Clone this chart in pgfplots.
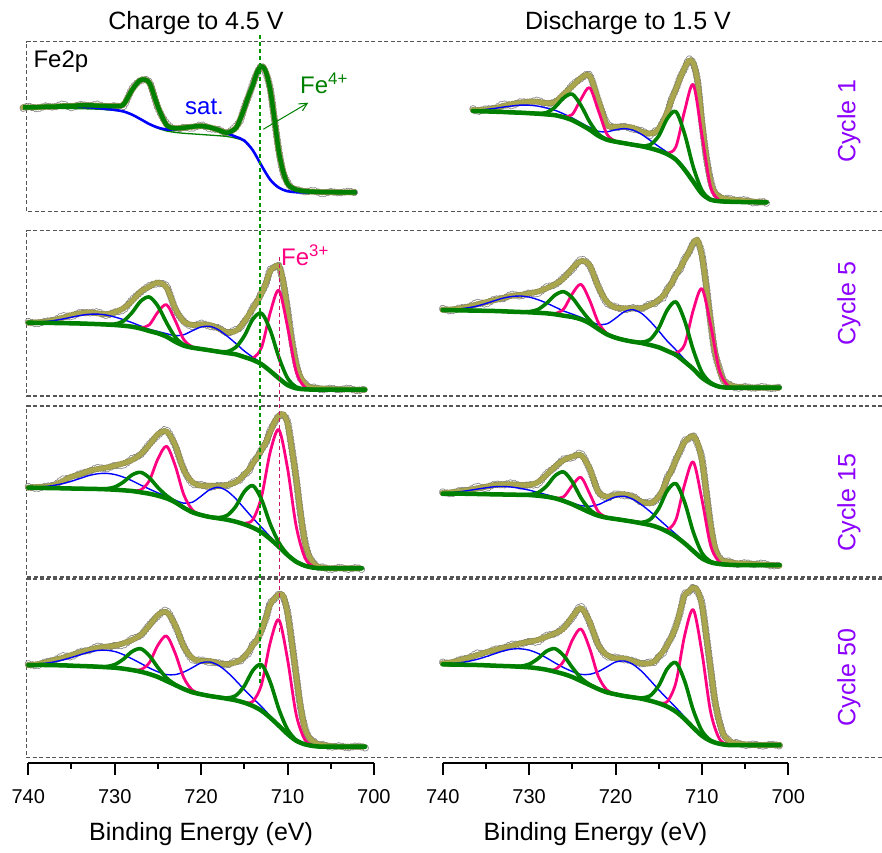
\documentclass[border=0pt]{standalone}
\usepackage{fontspec}
\setmainfont{Liberation Sans}
\usepackage{pgfplots}
\usepackage{pgfplotstable}
\pgfplotsset{compat=1.18}
\usetikzlibrary{arrows.meta}

\definecolor{fgreen}{RGB}{0,128,0}
\definecolor{fpink}{RGB}{255,0,128}
\definecolor{fblue}{RGB}{0,0,255}
\definecolor{olivefill}{RGB}{170,166,78}
\definecolor{oliveedge}{RGB}{138,134,80}
\definecolor{rawgray}{RGB}{128,128,128}
\definecolor{fviolet}{RGB}{140,0,255}
\definecolor{fcrimson}{RGB}{205,20,100}
\definecolor{fdash}{RGB}{85,85,85}
\definecolor{gdash}{RGB}{0,150,0}

% ---------- Charge to 4.5 V, cycle 1 ----------
\pgfplotstableread{
E bg blue
740.6 103.5 103.9
740 103.5 104.0
739 103.5 104.3
738 103.5 104.7
737 103.5 105.1
736 103.3 105.2
735 103.2 105.2
734 103.0 104.9
733 102.8 104.4
732 102.5 103.7
731 102.0 102.8
730 101.3 101.8
729 100.0 100.3
728 97.0 97.1
727 92.5 92.5
726 87.5 87.7
725 83.5 84.1
724 80.7 82.2
723 79.3 82.5
722 78.4 83.7
721 77.8 85.0
720 77.2 85.2
719 76.6 83.8
718 76.0 81.3
717 75.2 78.4
716 73.5 75.0
715 70.5 71.1
714 61.0 61.2
713 46.0 46.0
712 32.0 32.0
711 24.0 24.0
710 20.5 20.5
709 19.5 19.5
708 19.3 19.3
707 19.2 19.2
706 19.2 19.2
705 19.2 19.2
704 19.2 19.2
703 19.2 19.2
702 19.2 19.2
}\LAc
\pgfplotstableread{
E env dat
740.6 104.4 103.4
740 104.4 105.6
739 104.4 102.9
738 105.0 105.6
737 105.0 104.6
736 105.7 107.7
735 105.7 103.9
734 106.4 107.3
733 106.4 105.7
732 106.0 107.5
731 105.7 104.6
730 105.7 106.0
729 107.0 105.0
728 121.7 123.1
727 131.7 131.1
726 129.0 130.0
725 105.0 103.7
724 86.7 88.5
723 83.4 82.5
722 84.0 84.4
721 85.0 83.4
720 85.7 86.9
719 84.4 82.9
718 81.7 82.3
717 79.0 78.6
716 83.4 85.4
715.5 92.0 90.2
715 103.4 104.3
714.5 116.0 115.3
714 127.0 128.5
713.5 140.0 138.9
713 145.5 145.8
712.5 140.0 138.0
712 122.0 123.4
711.5 92.0 91.4
711 60.0 61.0
710.5 40.0 38.7
710 28.0 29.8
709.5 24.0 23.1
709 22.0 22.4
708 20.5 19.9
707 20.0 21.2
706 19.6 18.1
705 19.5 20.1
704 19.4 18.8
703 19.4 20.4
702 19.4 18.7
}\LAe

% ---------- Discharge to 1.5 V, cycle 1 ----------
\pgfplotstableread{
E bg blue grn pnk
736.5 100.7 101.5 100.7 100.7
736 100.5 101.6 100.5 100.5
735 100.3 102.3 100.3 100.3
734 100.0 103.3 100.0 100.0
733 99.7 104.6 99.7 99.7
732 99.3 105.7 99.3 99.3
731 99.0 106.6 99.0 99.0
730 98.5 106.5 98.5 98.5
729 98.0 105.6 98.2 98.0
728 97.3 103.7 99.1 97.3
727 96.5 101.4 104.5 96.5
726 94.5 97.8 113.8 95.0
725 91.5 93.7 117.5 97.2
724 87.0 88.8 106.3 112.5
723 82.0 84.3 90.0 124.0
722 76.0 80.4 77.8 101.5
721 72.0 79.9 72.2 77.7
720 70.0 81.9 70.0 70.5
719 68.5 83.1 68.5 68.5
718 67.0 81.6 67.0 67.0
717 65.5 77.4 65.9 65.5
716 63.5 71.4 66.9 63.5
715 61.0 65.2 75.7 61.0
714 57.5 59.3 93.2 58.6
713 52.0 52.7 100.0 65.1
712 42.0 42.2 77.7 100.9
711 30.0 30.0 44.7 127.0
710 18.0 18.0 21.4 76.9
709 12.0 12.0 12.4 25.1
708 10.5 10.5 10.5 11.6
707 10.0 10.0 10.0 10.0
706 9.8 9.8 9.8 9.8
705 9.6 9.6 9.6 9.6
704 9.5 9.5 9.5 9.5
703 9.4 9.4 9.4 9.4
702.5 9.4 9.4 9.4 9.4
}\RAc
\pgfplotstableread{
E env dat
736.5 101.7 102.9
736 101.6 100.1
735 102.3 102.9
734 103.4 103.0
733 105.7 107.7
732 107.7 105.9
731 109.0 109.9
730 110.0 109.3
729 110.0 111.5
728 108.5 107.4
727 109.5 109.8
726 117.6 115.6
725 125.4 126.8
724 133.6 133.0
723 136.0 137.0
722 112.0 110.7
721 87.0 88.8
720 85.0 84.1
719 85.0 85.4
718 84.0 82.4
717 80.0 81.2
716 78.0 76.5
715.5 79.0 80.6
715 83.0 81.9
714.5 90.0 90.3
714 100.0 98.0
713.5 112.0 113.4
713 123.0 122.4
712.5 134.0 135.0
712 144.0 142.7
711.5 151.0 152.8
711 149.0 148.1
710.5 130.0 130.4
710 90.0 88.4
709.5 55.0 55.0
709 30.0 31.8
708.5 19.0 18.1
708 15.0 15.4
707.5 13.4 12.0
707 12.5 13.7
706 11.7 11.1
705 11.0 12.0
704 10.0 8.7
703 9.4 10.2
702.5 9.4 8.3
}\RAe

% ---------- Charge to 4.5 V, cycle 5 ----------
\pgfplotstableread{
E bg blue grn pnk
740 73.3 73.6 73.3 73.3
739 73.2 73.9 73.2 73.2
738 73.1 74.5 73.1 73.1
737 73.0 75.5 73.0 73.0
736 72.9 77.0 72.9 72.9
735 72.7 78.8 72.7 72.7
734 72.5 80.5 72.5 72.5
733 72.2 81.7 72.2 72.2
732 71.9 81.9 71.9 71.9
731 71.5 81.0 71.6 71.5
730 71.0 79.0 72.0 71.0
729 70.3 76.4 74.9 70.3
728 69.3 73.4 83.3 69.3
727 67.5 70.0 94.7 68.3
726 65.0 66.7 99.0 71.1
725 62.7 64.5 89.9 83.9
724 59.3 62.3 73.3 91.3
723 54.3 60.3 58.9 75.5
722 50.3 61.3 51.3 56.4
721 48.3 65.3 48.4 49.1
720 47.0 69.0 47.0 47.0
719 45.7 69.7 45.7 45.7
718 44.3 66.3 44.5 44.3
717 43.0 60.0 44.4 43.0
716 41.7 52.7 48.6 41.7
715 39.0 45.0 60.0 39.2
714 36.0 38.7 76.9 38.1
713 31.7 32.8 82.7 48.6
712 25.0 25.3 65.9 83.3
711 17.7 17.7 38.7 105.7
710 11.0 11.0 17.9 69.3
709 7.7 7.7 9.1 24.6
708 6.7 6.7 6.9 8.8
707 6.4 6.4 6.4 6.6
706 6.3 6.3 6.3 6.3
705 6.3 6.3 6.3 6.3
704 6.3 6.3 6.3 6.3
703 6.3 6.3 6.3 6.3
702 6.3 6.3 6.3 6.3
701 6.3 6.3 6.3 6.3
}\LBc
\pgfplotstableread{
E env dat
740 73.3 74.5
739 73.7 72.2
738 74.3 74.9
737 76.0 75.6
736 78.3 80.3
735 81.0 79.2
734 82.7 83.6
733 83.7 83.0
732 82.7 84.2
731 81.7 80.6
730 83.7 84.0
729 87.7 85.7
728 95.0 96.4
727 104.3 103.7
726 109.3 110.3
725 113.5 112.2
724 108.5 110.3
723 87.7 86.8
722 74.3 74.7
721 71.0 69.4
720 71.7 72.9
719 71.0 69.5
718 67.7 68.3
717 63.7 63.0
716 65.0 66.5
715.5 69.0 67.9
715 74.3 74.6
714.5 81.0 79.0
714 87.7 89.1
713.5 95.0 94.4
713 102.7 103.7
712.5 113.0 111.7
712 125.0 126.8
711.5 129.0 128.1
711 130.0 130.4
710.5 115.0 113.4
710 85.0 87.0
709.5 55.0 55.9
709 32.0 32.4
708.5 19.0 17.4
708 12.0 13.2
707.5 9.0 8.4
707 8.0 9.0
706 7.5 6.2
705 7.0 7.8
704 6.7 6.1
703 6.7 7.9
702 6.3 5.4
701 6.3 7.0
}\LBe

% ---------- Discharge to 1.5 V, cycle 5 ----------
\pgfplotstableread{
E bg blue grn pnk
740 86.0 86.3 86.0 86.0
739 85.8 86.5 85.8 85.8
738 85.7 87.2 85.7 85.7
737 85.5 88.3 85.5 85.5
736 85.3 90.0 85.3 85.3
735 85.2 92.5 85.2 85.2
734 85.0 95.3 85.0 85.0
733 84.7 97.9 84.7 84.7
732 84.3 99.5 84.3 84.3
731 84.0 100.0 84.1 84.0
730 83.7 98.9 84.4 83.7
729 83.2 96.4 86.4 83.2
728 82.7 93.0 92.6 82.7
727 81.7 89.0 100.9 82.5
726 80.3 85.0 104.3 87.0
725 79.0 81.9 98.2 102.2
724 76.7 78.6 86.6 111.7
723 72.7 74.8 75.9 95.9
722 67.0 71.6 67.7 73.7
721 61.7 72.1 61.8 62.5
720 58.3 77.7 58.3 58.3
719 56.0 84.2 56.0 56.0
718 54.3 86.3 54.4 54.3
717 53.0 82.7 53.9 53.0
716 51.0 74.8 56.4 51.0
715 48.7 65.1 67.8 48.7
714 45.0 54.8 86.1 45.2
713 41.0 46.0 94.0 43.1
712 34.3 36.5 75.4 51.4
711 27.0 27.9 46.1 85.9
710 18.3 18.6 23.7 107.3
709 12.7 12.7 13.6 71.6
708 9.3 9.3 9.4 26.4
707 8.3 8.3 8.3 10.4
706 8.3 8.3 8.3 8.5
705 8.3 8.3 8.3 8.3
704 8.3 8.3 8.3 8.3
703 8.3 8.3 8.3 8.3
702 8.3 8.3 8.3 8.3
701 8.3 8.3 8.3 8.3
}\RBc
\pgfplotstableread{
E env dat
740 86.3 87.5
739 86.5 85.0
738 87.7 88.3
737 89.3 88.9
736 91.7 93.7
735 93.7 91.9
734 96.0 96.9
733 98.0 97.3
732 100.3 101.8
731 101.0 99.9
730 102.7 103.0
729 104.3 102.3
728 107.7 109.1
727 111.7 111.1
726 117.7 118.7
725 127.7 126.4
724 135.0 136.8
723 131.0 130.1
722 109.3 109.7
721 94.3 92.7
720 88.3 89.5
719 87.7 86.2
718 87.7 88.3
717 87.7 87.0
716 91.0 92.5
715.5 93.0 91.9
715 96.0 96.3
714.5 100.0 98.0
714 106.0 107.4
713.5 113.0 112.4
713 121.0 122.0
712.5 128.0 126.7
712 136.0 137.8
711.5 144.0 143.1
711 152.7 153.1
710.5 156.0 154.4
710 140.0 142.0
709.5 110.0 110.9
709 74.3 74.7
708.5 45.0 43.4
708 27.0 28.2
707.5 16.0 15.4
707 11.7 12.7
706 9.3 7.8
705 8.7 9.5
704 8.3 7.7
703 8.3 9.5
702 8.3 7.4
701 8.3 9.0
}\RBe

% ---------- Charge to 4.5 V, cycle 15 ----------
\pgfplotstableread{
E bg blue grn pnk
740 89.3 89.6 89.3 89.3
739 89.2 89.9 89.2 89.2
738 89.0 90.5 89.0 89.0
737 88.9 91.7 88.9 88.9
736 88.7 93.4 88.7 88.7
735 88.5 95.8 88.5 88.5
734 88.3 98.6 88.3 88.3
733 88.2 101.4 88.2 88.2
732 88.0 103.2 88.1 88.0
731 87.7 103.7 88.3 87.7
730 87.3 102.5 90.0 87.3
729 86.7 99.9 94.9 86.7
728 86.0 96.3 102.0 86.2
727 84.7 92.0 104.7 87.0
726 83.3 88.0 99.3 96.2
725 81.3 84.1 89.5 118.1
724 78.7 80.5 81.4 130.7
723 74.7 76.8 75.3 111.5
722 69.3 73.8 69.4 82.2
721 64.7 74.8 64.7 67.0
720 62.0 80.8 62.0 62.2
719 60.0 87.3 60.1 60.0
718 58.7 89.7 59.4 58.7
717 57.3 86.1 61.5 57.3
716 55.3 78.4 70.4 55.3
715 52.7 68.6 85.3 53.7
714 49.3 58.8 91.3 57.5
713 44.7 49.6 77.3 80.5
712 38.0 40.2 53.1 125.0
711 30.3 31.1 34.5 147.3
710 22.0 22.3 22.7 109.0
709 15.3 15.3 15.4 51.1
708 11.3 11.3 11.3 19.5
707 9.3 9.3 9.3 10.3
706 8.7 8.7 8.7 8.8
705 8.7 8.7 8.7 8.7
704 8.7 8.7 8.7 8.7
703 8.7 8.7 8.7 8.7
702 8.7 8.7 8.7 8.7
701.4 8.7 8.7 8.7 8.7
}\LCc
\pgfplotstableread{
E env dat
740 89.3 90.5
739 90.0 88.5
738 90.3 90.9
737 92.0 91.6
736 96.0 98.0
735 100.3 98.5
734 102.7 103.6
733 106.0 105.3
732 108.0 109.5
731 109.3 108.2
730 111.3 111.6
729 113.7 111.7
728 117.0 118.4
727 122.7 122.1
726 132.0 133.0
725 142.7 141.4
724 145.5 147.3
723 132.0 131.1
722 107.0 107.4
721 94.7 93.1
720 91.3 92.5
719 91.3 89.8
718 91.0 91.6
717 92.0 91.3
716 94.7 96.2
715.5 98.0 96.9
715 102.5 102.8
714.5 107.0 105.0
714 113.7 115.1
713.5 120.0 119.4
713 127.0 128.0
712.5 135.0 133.7
712 145.0 146.8
711.5 155.0 154.1
711 161.0 161.4
710.5 163.0 161.4
710 153.7 155.7
709.5 128.0 128.9
709 98.7 99.1
708.5 65.0 63.4
708 35.3 36.5
707.5 21.0 20.4
707 13.7 14.7
706.5 10.5 9.2
706 9.3 10.1
705 8.7 7.5
704 8.7 9.7
703 8.7 7.6
702 8.7 9.5
701.4 8.7 7.5
}\LCe

% ---------- Discharge to 1.5 V, cycle 15 ----------
\pgfplotstableread{
E bg blue grn pnk
740 83.3 83.8 83.3 83.3
739 83.3 84.4 83.3 83.3
738 83.3 85.3 83.3 83.3
737 83.2 86.5 83.2 83.2
736 83.0 87.9 83.0 83.0
735 82.8 89.2 82.8 82.8
734 82.7 90.3 82.7 82.7
733 82.5 90.5 82.5 82.5
732 82.3 89.9 82.3 82.3
731 82.2 88.6 82.3 82.2
730 82.0 86.9 82.5 82.0
729 81.3 84.6 84.2 81.3
728 80.3 82.3 90.7 80.3
727 78.7 79.8 101.2 79.0
726 76.0 76.8 105.0 80.2
725 72.7 74.0 95.2 91.5
724 68.7 71.4 79.1 99.7
723 64.7 70.7 67.6 83.5
722 61.3 72.3 61.8 65.5
721 59.3 76.3 59.4 59.6
720 58.0 80.0 58.0 58.0
719 56.7 80.7 56.7 56.7
718 55.3 77.8 55.4 55.3
717 53.7 72.3 54.6 53.7
716 52.0 65.5 57.4 52.0
715 49.3 57.9 68.4 49.5
714 45.3 50.2 86.4 47.4
713 40.3 42.7 93.3 57.4
712 33.7 34.8 74.8 92.6
711 26.0 26.4 45.1 115.0
710 18.7 18.7 24.1 77.6
709 14.7 14.7 15.6 31.8
708 13.0 13.0 13.1 15.1
707 12.3 12.3 12.3 12.5
706 12.0 12.0 12.0 12.0
705 12.0 12.0 12.0 12.0
704 12.0 12.0 12.0 12.0
703 12.0 12.0 12.0 12.0
702 12.0 12.0 12.0 12.0
701 12.0 12.0 12.0 12.0
}\RCc
\pgfplotstableread{
E env dat
740 83.8 85.0
739 84.7 83.2
738 86.0 86.6
737 87.0 86.6
736 88.7 90.7
735 90.3 88.5
734 92.0 92.9
733 92.7 92.0
732 92.7 94.2
731 92.0 90.9
730 92.0 92.3
729 94.7 92.7
728 102.0 103.4
727 110.3 109.7
726 117.0 118.0
725 120.3 119.0
724 122.0 123.8
723 108.7 107.8
722 85.3 85.7
721 80.3 78.7
720 82.0 83.2
719 82.7 81.2
718 80.3 80.9
717 75.3 74.6
716 73.7 75.2
715.5 76.0 74.9
715 80.3 80.6
714.5 88.0 86.0
714 98.7 100.1
713.5 107.0 106.4
713 117.0 118.0
712.5 127.0 125.7
712 135.0 136.8
711.5 139.0 138.1
711 141.0 141.4
710.5 134.0 132.4
710 117.0 119.0
709.5 85.0 85.9
709 52.0 52.4
708.5 30.0 28.4
708 18.7 19.9
707.5 16.0 15.4
707 15.3 16.3
706 13.7 12.4
705 13.5 14.3
704 13.0 12.4
703 12.5 13.9
702 12.0 11.1
701 11.3 12.0
}\RCe

% ---------- Charge to 4.5 V, cycle 50 ----------
\pgfplotstableread{
E bg blue grn pnk
740 92.5 92.9 92.5 92.5
739 92.5 93.4 92.5 92.5
738 92.5 94.3 92.5 92.5
737 92.3 95.6 92.3 92.3
736 92.2 97.6 92.2 92.2
735 91.8 100.0 91.8 91.8
734 91.5 102.7 91.5 91.5
733 91.2 105.3 91.2 91.2
732 90.8 107.0 90.9 90.8
731 90.3 107.3 90.9 90.3
730 89.8 106.0 92.9 89.8
729 88.8 102.9 98.3 88.8
728 87.5 98.7 105.9 87.7
727 85.8 94.2 108.8 87.8
726 83.5 89.6 101.9 94.7
725 80.5 85.7 90.0 112.3
724 76.5 82.9 79.6 121.5
723 72.5 82.9 73.1 104.3
722 68.5 85.5 68.6 79.7
721 65.2 89.9 65.2 67.2
720 63.2 94.6 63.2 63.4
719 61.5 95.5 61.5 61.5
718 60.2 92.2 60.3 60.2
717 58.8 85.6 59.6 58.8
716 57.2 77.1 61.8 57.2
715 54.8 67.9 71.4 55.2
714 51.5 59.2 87.2 56.2
713 46.8 50.8 92.8 73.2
712 39.8 41.6 75.5 114.8
711 31.8 32.5 48.4 137.8
710 23.5 23.7 28.1 98.5
709 16.8 16.8 17.6 43.2
708 13.2 13.2 13.3 17.9
707 11.5 11.5 11.5 11.9
706 10.8 10.8 10.8 10.8
705 10.8 10.8 10.8 10.8
704 10.8 10.8 10.8 10.8
703 10.8 10.8 10.8 10.8
702 10.8 10.8 10.8 10.8
701 10.8 10.8 10.8 10.8
}\LDc
\pgfplotstableread{
E env dat
740 92.5 93.7
739 93.2 91.7
738 95.2 95.8
737 97.5 97.1
736 99.8 101.8
735 102.5 100.7
734 105.2 106.1
733 107.5 106.8
732 109.8 111.3
731 110.8 109.7
730 111.8 112.1
729 114.2 112.2
728 117.5 118.9
727 122.5 121.9
726 131.8 132.8
725 142.5 141.2
724 145.5 147.3
723 132.5 131.6
722 110.8 111.2
721 99.2 97.6
720 96.5 97.7
719 96.5 95.0
718 94.2 94.8
717 93.2 92.5
716 95.2 96.7
715.5 97.0 95.9
715 100.8 101.1
714.5 106.0 104.0
714 112.5 113.9
713.5 118.0 117.4
713 127.0 128.0
712.5 140.0 138.7
712 153.0 154.8
711.5 159.0 158.1
711 163.0 163.4
710.5 162.0 160.4
710 144.2 146.2
709.5 115.0 115.9
709 82.5 82.9
708.5 52.0 50.4
708 29.2 30.4
707.5 20.0 19.4
707 15.8 16.8
706.5 13.5 12.2
706 12.5 13.3
705 11.5 10.3
704 10.8 11.8
703 10.8 9.7
702 10.8 11.6
701 10.8 9.6
}\LDe

% ---------- Discharge to 1.5 V, cycle 50 ----------
\pgfplotstableread{
E bg blue grn pnk
740 93.2 93.6 93.2 93.2
739 93.0 94.0 93.0 93.0
738 92.8 94.7 92.8 92.8
737 92.7 96.2 92.7 92.7
736 92.5 98.2 92.5 92.5
735 92.2 100.8 92.2 92.2
734 91.8 103.7 91.8 91.8
733 91.5 106.5 91.5 91.5
732 91.2 108.4 91.3 91.2
731 90.7 108.7 91.3 90.7
730 90.2 107.4 93.3 90.2
729 89.2 104.2 98.7 89.2
728 87.8 99.7 106.2 88.0
727 85.8 94.6 108.8 88.1
726 83.5 89.9 101.9 96.4
725 80.5 86.0 90.0 117.3
724 76.5 83.1 79.6 128.5
723 72.5 83.2 73.1 109.3
722 68.5 85.9 68.6 81.4
721 65.2 90.6 65.2 67.5
720 63.2 95.5 63.2 63.4
719 61.5 96.5 61.5 61.5
718 60.2 93.2 60.3 60.2
717 58.8 86.4 59.6 58.8
716 56.8 77.3 61.7 56.8
715 54.2 67.7 71.8 54.7
714 50.8 58.7 88.8 56.0
713 45.8 49.9 94.8 75.2
712 38.5 40.4 76.5 121.9
711 29.8 30.6 47.4 147.8
710 21.8 22.0 26.7 105.2
709 16.5 16.5 17.3 45.9
708 13.8 13.8 13.9 19.0
707 12.5 12.5 12.5 13.0
706 12.5 12.5 12.5 12.5
705 12.5 12.5 12.5 12.5
704 12.5 12.5 12.5 12.5
703 12.5 12.5 12.5 12.5
702 12.5 12.5 12.5 12.5
701 12.5 12.5 12.5 12.5
}\RDc
\pgfplotstableread{
E env dat
740 94.2 95.4
739 95.2 93.7
738 97.5 98.1
737 99.8 99.4
736 102.5 104.5
735 105.2 103.4
734 107.5 108.4
733 109.8 109.1
732 111.8 113.3
731 114.2 113.1
730 115.8 116.1
729 117.5 115.5
728 120.8 122.2
727 124.2 123.6
726 129.2 130.2
725 140.8 139.5
724 149.5 151.3
723 135.8 134.9
722 112.5 112.9
721 102.5 100.9
720 99.2 100.4
719 99.2 97.7
718 96.5 97.1
717 94.2 93.5
716 94.2 95.7
715.5 96.0 94.9
715 100.8 101.1
714.5 106.0 104.0
714 112.5 113.9
713.5 121.0 120.4
713 131.0 132.0
712.5 147.0 145.7
712 162.5 164.3
711.5 166.0 165.1
711 170.0 170.4
710.5 167.0 165.4
710 152.5 154.5
709.5 122.0 122.9
709 89.2 89.6
708.5 58.0 56.4
708 35.8 37.0
707.5 23.0 22.4
707 17.5 18.5
706.5 15.0 13.7
706 14.2 15.0
705 13.2 12.0
704 12.5 13.5
703 12.5 11.4
702 12.5 13.3
701 12.5 11.5
}\RDe

\pgfplotsset{
  panel/.style={scale only axis, width=345.6pt, xmin=700, xmax=740,
    x dir=reverse, ymin=0, hide axis, clip=false, anchor=south west},
  % measured points: open grey rings along the record
  rawring/.style={color=rawgray, line width=7.2pt, smooth, line cap=round,
    dash pattern=on 0.1pt off 3.3pt},
  rawhole/.style={color=white, line width=5.6pt, smooth, line cap=round,
    dash pattern=on 0.1pt off 3.3pt},
  % fitted envelope: olive discs
  fitedge/.style={color=oliveedge, line width=6.2pt, smooth, line cap=round,
    dash pattern=on 0.1pt off 2.4pt},
  fitfill/.style={color=olivefill, line width=5.0pt, smooth, line cap=round,
    dash pattern=on 0.1pt off 2.4pt},
  bgline/.style={color=fgreen, line width=4.5pt, smooth, line join=round, line cap=round},
  grnline/.style={color=fgreen, line width=3.6pt, smooth, line join=round},
  pnkline/.style={color=fpink, line width=2.8pt, smooth, line join=round},
  bluline/.style={color=fblue, line width=1.4pt, smooth, line join=round},
  botaxis/.style={scale only axis, width=345.6pt, height=20pt, anchor=south west,
    xmin=700, xmax=740, x dir=reverse, ymin=0, ymax=1,
    axis x line*=bottom, axis y line=none,
    xtick={700,710,720,730,740}, minor xtick={705,715,725,735},
    tick align=outside, major tick length=12pt, minor tick length=6pt,
    every tick/.style={black, line width=2pt},
    axis line style={black, line width=2pt},
    /pgf/number format/assume math mode=true,
    xticklabel style={font=\fontsize{20}{24}\selectfont, anchor=base, yshift=-28.5pt},
    xlabel={Binding Energy (eV)},
    xlabel style={font=\fontsize{25}{30}\selectfont, at={(axis description cs:0.5,0)}, anchor=base, yshift=-78pt}},
}

\newcommand{\rawandfit}[1]{%
  \addplot[rawring] table[x=E,y=dat]{#1};
  \addplot[rawhole] table[x=E,y=dat]{#1};
  \addplot[fitedge] table[x=E,y=env]{#1};
  \addplot[fitfill] table[x=E,y=env]{#1};
}
\newcommand{\fullpanel}[2]{%
  \rawandfit{#2}
  \addplot[bluline] table[x=E,y=blue]{#1};
  \addplot[pnkline] table[x=E,y=pnk]{#1};
  \addplot[grnline] table[x=E,y=grn]{#1};
  \addplot[bgline] table[x=E,y=bg]{#1};
}

\begin{document}
\begin{tikzpicture}
\useasboundingbox (0pt,0pt) rectangle (882pt,852pt);

% row frames
\begin{scope}[fdash, line width=1.2pt, dash pattern=on 4pt off 2.5pt]
  \draw (882pt,810.3pt) -- (26.7pt,810.3pt) -- (26.7pt,640.3pt) -- (882pt,640.3pt);
  \draw (882pt,621.3pt) -- (26.7pt,621.3pt) -- (26.7pt,456pt) -- (882pt,456pt);
  \draw (882pt,446pt) -- (26.7pt,446pt) -- (26.7pt,275pt) -- (882pt,275pt);
  \draw (882pt,273pt) -- (26.7pt,273pt) -- (26.7pt,94.5pt) -- (882pt,94.5pt);
\end{scope}

% cycle 1
\begin{axis}[panel, height=170pt, ymax=170, at={(28.3pt,640.3pt)}]
  \rawandfit{\LAe}
  \addplot[color=fgreen, line width=1.3pt, smooth] table[x=E,y=bg]{\LAc};
  \addplot[color=fblue, line width=2.6pt, smooth] table[x=E,y=blue]{\LAc};
  \addplot[color=fgreen, line width=4.5pt, smooth, line join=round] table[x=E,y=env]{\LAe};
\end{axis}
\begin{axis}[panel, height=170pt, ymax=170, at={(442.7pt,640.3pt)}]
  \fullpanel{\RAc}{\RAe}
\end{axis}

% cycle 5
\begin{axis}[panel, height=165.3pt, ymax=165.3, at={(28.3pt,456pt)}]
  \fullpanel{\LBc}{\LBe}
\end{axis}
\begin{axis}[panel, height=165.3pt, ymax=165.3, at={(442.7pt,456pt)}]
  \fullpanel{\RBc}{\RBe}
\end{axis}

% cycle 15
\begin{axis}[panel, height=171pt, ymax=171, at={(28.3pt,275pt)}]
  \fullpanel{\LCc}{\LCe}
\end{axis}
\begin{axis}[panel, height=171pt, ymax=171, at={(442.7pt,275pt)}]
  \fullpanel{\RCc}{\RCe}
\end{axis}

% cycle 50
\begin{axis}[panel, height=178.5pt, ymax=178.5, at={(28.3pt,94.5pt)}]
  \fullpanel{\LDc}{\LDe}
\end{axis}
\begin{axis}[panel, height=178.5pt, ymax=178.5, at={(442.7pt,94.5pt)}]
  \fullpanel{\RDc}{\RDe}
\end{axis}

% energy axes
\begin{axis}[botaxis, at={(28.3pt,89.3pt)}]
\end{axis}
\begin{axis}[botaxis, at={(442.7pt,89.3pt)}, xlabel style={xshift=-20pt}]
\end{axis}

% reference lines
\draw[gdash, line width=1.2pt, dash pattern=on 4pt off 3pt] (260pt,817pt) -- (260pt,167pt);
\draw[fcrimson, line width=1.1pt, dash pattern=on 4pt off 3pt] (279.3pt,595pt) -- (279.3pt,220pt);

% annotations
\node[anchor=base, font=\fontsize{25}{30}\selectfont] at (196pt,822pt) {Charge to 4.5 V};
\node[anchor=base, font=\fontsize{25}{30}\selectfont] at (628pt,822pt) {Discharge to 1.5 V};
\node[anchor=base west, inner sep=0pt, font=\fontsize{24}{28}\selectfont] at (33.3pt,784.7pt) {Fe2p};
\node[anchor=base, inner sep=0pt, text=fblue, font=\fontsize{24}{28}\selectfont] at (204.5pt,737pt) {sat.};
\node[anchor=base west, inner sep=0pt, text=fgreen, font=\fontsize{24}{28}\selectfont] at (300pt,758.7pt) {Fe\textsuperscript{4+}};
\draw[fgreen, line width=1pt, -{Straight Barb[length=8pt,width=8pt]}] (263.3pt,722.7pt) -- (308.3pt,749.3pt);
\node[anchor=base west, inner sep=0pt, text=fpink, font=\fontsize{24}{28}\selectfont] at (281pt,586.3pt) {Fe\textsuperscript{3+}};

\begin{scope}[every node/.style={rotate=90, text=fviolet, font=\fontsize{25}{30}\selectfont, inner sep=0pt}]
  \node at (849pt,731pt) {Cycle 1};
  \node at (849pt,548.5pt) {Cycle 5};
  \node at (849pt,349.5pt) {Cycle 15};
  \node at (849pt,174.5pt) {Cycle 50};
\end{scope}
\end{tikzpicture}
\end{document}
